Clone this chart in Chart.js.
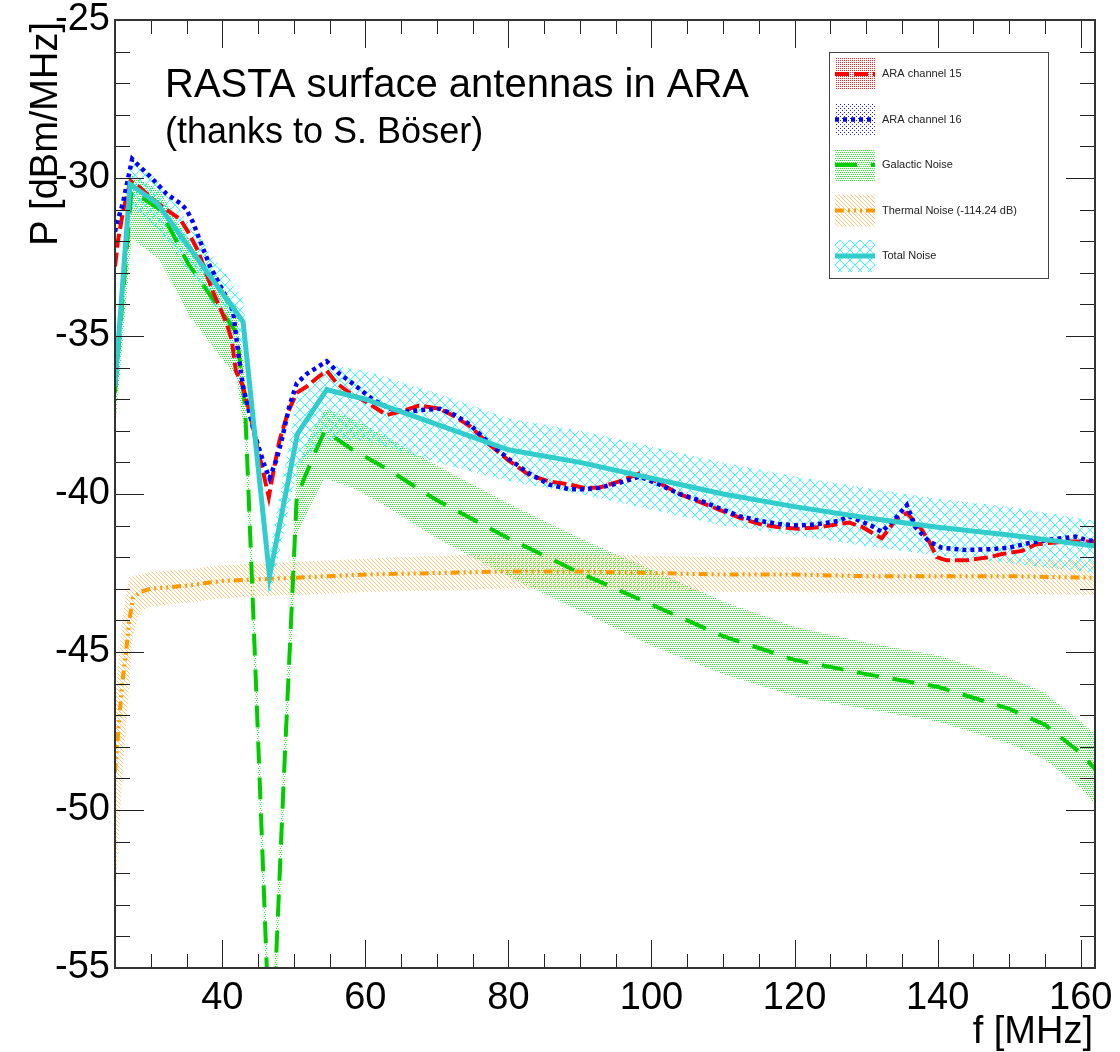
<!DOCTYPE html>
<html><head><meta charset="utf-8">
<script src="https://cdn.jsdelivr.net/npm/chart.js@4.4.1/dist/chart.umd.min.js"></script>
<style>html,body{margin:0;padding:0;background:#fff;}#wrap{width:1120px;height:1052px;}</style>
</head><body><div id="wrap"><canvas id="c" width="1120" height="1052"></canvas></div>
<script>
// ---------------- DATA ----------------
const seriesLabels = ['ARA channel 15','ARA channel 16','Galactic Noise','Thermal Noise (-114.24 dB)','Total Noise'];
const titleLine1 = 'RASTA surface antennas in ARA';
const titleLine2 = '(thanks to S. Böser)';
const xAxisTitle = 'f [MHz]';
const yAxisTitle = 'P [dBm/MHz]';
const xTickValues = [40,60,80,100,120,140,160];
const yTickValues = [-55,-50,-45,-40,-35,-30,-25];

const freq15 = [25,25.4,26.1,26.8,27.2,28.5,29.9,32.2,34.1,35.2,36.6,38.7,40.6,41.3,41.9,42.9,43.8,45.0,46.2,46.5,47.3,48.0,49.2,50.4,51.8,53.4,54.6,56.0,57.8,60.2,63.0,65.5,67.5,70.4,72.5,74.6,77.4,80.1,82.9,85.7,88.5,90.5,92.7,95.5,98.3,101.1,103.9,106.7,109.5,112.3,115.1,117.8,120.6,123.4,126.2,127.6,129.5,131.4,132.2,134.2,135.7,137.7,138.8,139.9,141.2,143.9,147.2,149.0,151.8,153.7,155.5,158.3,160.7,162];
const pow15 = [-32.8,-32.0,-31.1,-30.4,-30.1,-30.3,-30.6,-31.0,-31.3,-31.7,-32.3,-33.6,-34.6,-35.1,-36.1,-36.6,-37.4,-38.6,-39.8,-40.1,-39.1,-38.3,-37.4,-36.8,-36.6,-36.3,-36.1,-36.5,-36.8,-37.1,-37.5,-37.35,-37.2,-37.3,-37.55,-37.85,-38.45,-38.95,-39.4,-39.6,-39.7,-39.8,-39.8,-39.6,-39.35,-39.65,-40.0,-40.25,-40.5,-40.75,-40.95,-41.05,-41.1,-41.05,-40.95,-40.9,-41.05,-41.3,-41.4,-40.8,-40.6,-41.1,-41.5,-42.0,-42.1,-42.1,-42.0,-41.9,-41.8,-41.6,-41.55,-41.5,-41.5,-41.5];

const freq16 = [25,25.3,26.1,27.4,28.5,29.9,32.2,34.1,35.0,35.9,36.9,38.3,39.7,41.5,42.2,42.9,44.5,45.9,46.6,47.6,48.3,49.4,50.4,51.8,53.2,54.6,56.4,58.2,61.0,63.4,65.5,67.5,70.4,72.5,74.6,77.4,80.1,82.9,85.7,88.5,90.5,92.7,95.5,98.3,101.1,103.9,106.7,109.5,112.3,115.1,117.8,120.6,123.4,126.2,127.6,130.7,132.2,134.2,135.7,136.9,138.8,140.6,143.9,147.2,150,152.8,155.5,159.3,160.7,162];
const pow16 = [-31.7,-31.4,-30.8,-29.4,-29.65,-29.95,-30.5,-30.8,-31.0,-31.4,-32.0,-32.8,-33.4,-34.2,-35.5,-36.6,-38.1,-39.1,-39.5,-38.9,-38.3,-37.2,-36.5,-36.2,-36.0,-35.8,-36.2,-36.5,-37.0,-37.3,-37.4,-37.35,-37.3,-37.5,-37.8,-38.4,-38.9,-39.35,-39.7,-39.85,-39.85,-39.8,-39.65,-39.45,-39.7,-40.0,-40.2,-40.45,-40.7,-40.85,-40.95,-41.0,-40.95,-40.85,-40.7,-41.0,-41.2,-40.75,-40.35,-41.05,-41.5,-41.7,-41.77,-41.75,-41.7,-41.55,-41.45,-41.35,-41.45,-41.5];

const galFreq = [25,27.3,31.3,35.2,39.2,42.0,43.2,44.3,45.3,46.3,46.9,47.5,48.6,49.7,50.4,52.2,54.3,58.2,63.0,70,80,90,100,110,120,130,140,150,155,160,162];
const galPow  = [-36.8,-30.4,-31.0,-32.7,-34.0,-34.9,-37.3,-43.6,-49.5,-55.5,-58,-54.8,-49,-43.6,-40.1,-39.1,-38.0,-38.6,-39.2,-40.2,-41.4,-42.5,-43.5,-44.5,-45.25,-45.7,-46.1,-46.8,-47.3,-48.2,-48.7];
const galHigh = [-35.5,-29.9,-30.4,-31.9,-33.2,-34.1,-36.3,-42.6,-48.5,-54.5,-57,-53.8,-48,-42.6,-39.1,-38.2,-37.3,-37.6,-38.2,-39.1,-40.3,-41.4,-42.4,-43.4,-44.2,-44.7,-45.1,-45.8,-46.3,-47.2,-47.6];
const galLow  = [-38.0,-31.9,-32.6,-34.3,-35.5,-36.3,-38.3,-44.6,-50.5,-56.5,-59,-55.8,-50,-44.6,-41.3,-40.4,-39.5,-39.8,-40.4,-41.4,-42.6,-43.7,-44.8,-45.7,-46.4,-46.8,-47.2,-47.9,-48.4,-49.3,-49.8];

const thFreq = [25,25.5,26.0,26.5,27.0,27.5,28.5,30,35,40,50,60,70,80,90,100,110,120,130,140,150,162];
const thPow  = [-48.8,-47.4,-46.0,-45.1,-44.0,-43.3,-43.1,-43.0,-42.9,-42.75,-42.65,-42.55,-42.5,-42.45,-42.45,-42.5,-42.55,-42.55,-42.6,-42.6,-42.6,-42.65];
const thHigh = [-46.5,-45.2,-44.0,-43.2,-42.6,-42.6,-42.55,-42.45,-42.4,-42.25,-42.15,-42.05,-41.95,-41.9,-41.9,-41.95,-42.0,-42.0,-42.05,-42.05,-42.05,-42.1];
const thLow  = [-53.0,-51.0,-49.0,-47.5,-46.0,-44.5,-43.7,-43.55,-43.45,-43.3,-43.2,-43.1,-43.05,-43.0,-43.0,-43.05,-43.1,-43.1,-43.15,-43.15,-43.15,-43.2];

const totFreq = [25,27.1,30.9,42.9,46.6,50.5,54.6,60,70,80,90,100,110,120,130,140,150,162];
const totPow  = [-36.6,-30.2,-30.8,-34.55,-42.6,-38.1,-36.7,-37.0,-37.8,-38.6,-39.0,-39.5,-40.0,-40.4,-40.75,-41.05,-41.3,-41.65];
const totHigh = [-35.8,-29.5,-30.0,-33.8,-41.9,-36.9,-35.9,-36.1,-36.8,-37.6,-38.0,-38.5,-39.0,-39.45,-39.8,-40.15,-40.4,-40.85];
const totLow  = [-37.4,-30.9,-31.6,-35.3,-43.3,-39.2,-38.3,-38.3,-39.0,-39.6,-40.0,-40.5,-41.0,-41.3,-41.65,-41.95,-42.2,-42.5];

// ---------------- STYLE ----------------
const FONT = '"Liberation Sans", Arial, Helvetica, sans-serif';
const pts = (xs, ys) => xs.map((x, i) => ({x: x, y: ys[i]}));

function makePattern(w, h, draw) {
  const c = document.createElement('canvas'); c.width = w; c.height = h;
  const g = c.getContext('2d'); draw(g, w, h);
  return document.getElementById('c').getContext('2d').createPattern(c, 'repeat');
}
const redPat = makePattern(2, 2, g => { g.fillStyle = '#ff2020'; g.fillRect(0,0,1,1); });
const bluePat = makePattern(4, 4, g => { g.fillStyle = '#2020ff'; g.fillRect(0,0,1,1); g.fillRect(2,2,1,1); });
const greenPat = makePattern(4, 4, g => { g.fillStyle = '#22ee22'; g.fillRect(0,0,1,1); g.fillRect(2,0,1,1); g.fillRect(1,2,1,1); g.fillRect(3,2,1,1); });
const orangePat = makePattern(4, 4, g => { g.fillStyle = '#ffc878'; for (let i=0;i<4;i++) g.fillRect(i,i,1,1); });
const cyanPat = makePattern(10, 10, g => {
  g.strokeStyle = '#33ffff'; g.lineWidth = 1;
  g.beginPath(); g.moveTo(-1,-1); g.lineTo(11,11); g.moveTo(-1,11); g.lineTo(11,-1); g.stroke();
});

const styles = [
  {color:'#ff0000', dash:[14,5], width:4, pattern:redPat},
  {color:'#0000ff', dash:[4,4], width:4.5, pattern:bluePat},
  {color:'#00cc00', dash:[22,14], width:4, pattern:greenPat},
  {color:'#ff9900', dash:[9,4,2,4,2,4,2,4], width:4, pattern:orangePat},
  {color:'#33cccc', dash:[], width:5, pattern:cyanPat}
];

function band(xs, hi, lo, pat, order) {
  return [
    {label:'_hi', data: pts(xs, hi), borderWidth:0, pointRadius:0, fill:false, order:order, clip:0},
    {label:'_lo', data: pts(xs, lo), borderWidth:0, pointRadius:0, fill:'-1', backgroundColor:pat, order:order, clip:0}
  ];
}
function line(label, xs, ys, st, order) {
  return {label:label, data: pts(xs, ys), borderColor: st.color, borderWidth: st.width, borderDash: st.dash,
          pointRadius:0, fill:false, tension:0, order:order, clip:0, borderCapStyle:'butt', borderJoinStyle:'miter'};
}

const datasets = [
  ...band(galFreq, galHigh, galLow, greenPat, 9),
  ...band(thFreq, thHigh, thLow, orangePat, 8),
  ...band(totFreq, totHigh, totLow, cyanPat, 7),
  line(seriesLabels[3], thFreq, thPow, styles[3], 4),
  line(seriesLabels[2], galFreq, galPow, styles[2], 3),
  line(seriesLabels[0], freq15, pow15, styles[0], 2),
  line(seriesLabels[1], freq16, pow16, styles[1], 1),
  line(seriesLabels[4], totFreq, totPow, styles[4], 0)
];

const rootDecor = {
  id: 'rootDecor',
  afterDraw(chart) {
    const ctx = chart.ctx, a = chart.chartArea, xs = chart.scales.x, ys = chart.scales.y;
    ctx.save();
    ctx.strokeStyle = '#222'; ctx.lineWidth = 1; ctx.setLineDash([]);
    ctx.beginPath();
    for (let v = 30; v <= 162; v += 5) {
      const px = Math.round(xs.getPixelForValue(v)) + 0.5;
      const L = (v % 20 === 0) ? 28 : 14;
      ctx.moveTo(px, a.bottom); ctx.lineTo(px, a.bottom - L);
      ctx.moveTo(px, a.top); ctx.lineTo(px, a.top + L);
    }
    for (let v = -54; v <= -26; v += 1) {
      const py = Math.round(ys.getPixelForValue(v)) + 0.5;
      const L = (v % 5 === 0) ? 29 : 15;
      ctx.moveTo(a.left, py); ctx.lineTo(a.left + L, py);
      ctx.moveTo(a.right, py); ctx.lineTo(a.right - L, py);
    }
    ctx.stroke();
    ctx.lineWidth = 2; ctx.strokeStyle = '#333';
    ctx.strokeRect(a.left, a.top, a.right - a.left, a.bottom - a.top);

    ctx.fillStyle = '#000';
    ctx.textAlign = 'left'; ctx.textBaseline = 'alphabetic';
    ctx.font = '40px ' + FONT; ctx.fillText(titleLine1, 165, 97);
    ctx.font = '36px ' + FONT; ctx.fillText(titleLine2, 165, 143);
    ctx.font = '38px ' + FONT; ctx.textAlign = 'right';
    ctx.fillText(xAxisTitle, 1093, 1043);
    ctx.save(); ctx.translate(57, 22); ctx.rotate(-Math.PI/2);
    ctx.textAlign = 'right'; ctx.fillText(yAxisTitle, 0, 0); ctx.restore();

    const lx = 829.5, ly = 52.5, lw = 219, lh = 226;
    ctx.fillStyle = '#fff'; ctx.fillRect(lx, ly, lw, lh);
    ctx.strokeStyle = '#444'; ctx.lineWidth = 1; ctx.strokeRect(lx, ly, lw, lh);
    for (let i = 0; i < seriesLabels.length; i++) {
      const st = styles[i];
      const cy = 74 + i * 45.5;
      ctx.fillStyle = st.pattern; ctx.fillRect(835, cy - 16, 40, 32);
      ctx.strokeStyle = st.color; ctx.lineWidth = st.width; ctx.setLineDash(st.dash); ctx.lineCap = 'butt';
      ctx.beginPath(); ctx.moveTo(835, cy); ctx.lineTo(875, cy); ctx.stroke();
      ctx.setLineDash([]);
      ctx.fillStyle = '#222'; ctx.font = '11px ' + FONT; ctx.textAlign = 'left'; ctx.textBaseline = 'middle';
      ctx.fillText(seriesLabels[i], 882, cy);
    }
    ctx.restore();
  }
};

new Chart(document.getElementById('c'), {
  type: 'line',
  data: { datasets: datasets },
  options: {
    responsive: false, animation: false, devicePixelRatio: 1,
    layout: { padding: { top: 20, right: 25, left: 0, bottom: 0 } },
    plugins: { legend: { display: false }, tooltip: { enabled: false } },
    scales: {
      x: {
        type: 'linear', min: 25, max: 162,
        grid: { display: false, drawTicks: false }, border: { display: false },
        ticks: { color: '#000', font: { family: FONT, size: 38 }, padding: 8, maxRotation: 0, autoSkip: false },
        afterBuildTicks: s => { s.ticks = xTickValues.map(v => ({value: v})); },
        afterFit: s => { s.height = 84; s.paddingLeft = 0; s.paddingRight = 0; }
      },
      y: {
        type: 'linear', min: -55, max: -25,
        grid: { display: false, drawTicks: false }, border: { display: false },
        ticks: { color: '#000', font: { family: FONT, size: 38 }, padding: 5, autoSkip: false },
        afterBuildTicks: s => { s.ticks = yTickValues.map(v => ({value: v})); },
        afterFit: s => { s.width = 115; s.paddingTop = 0; s.paddingBottom = 0; }
      }
    }
  },
  plugins: [rootDecor]
});
</script></body></html>
